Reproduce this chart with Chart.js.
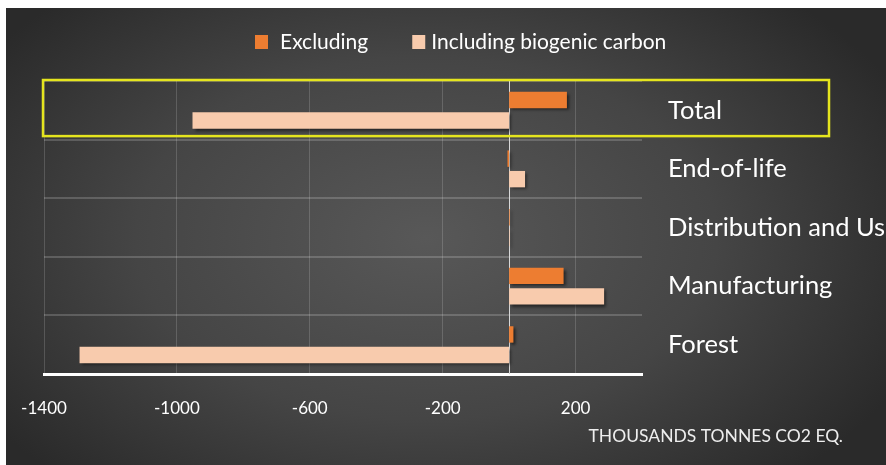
<!DOCTYPE html>
<html>
<head>
<meta charset="utf-8">
<script src="https://cdn.jsdelivr.net/npm/chart.js@4.4.0/dist/chart.umd.min.js"></script>
<style>
  html, body { margin: 0; padding: 0; background: #ffffff; width: 886px; height: 465px; overflow: hidden; }
  #wrap { position: absolute; left: 6px; top: 8px; width: 880px; height: 457px; }
</style>
</head>
<body>
<div id="wrap"><canvas id="c" width="880" height="457"></canvas></div>
<script>
// Life-cycle emissions by stage, thousand tonnes CO2 eq.
const categories = ['Total', 'End-of-life', 'Distribution and Use', 'Manufacturing', 'Forest'];
const excluding = [174, -5, 2, 164, 13];
const including = [-953, 48, 2, 286, -1293];
const seriesNames = ['Excluding', 'Including biogenic carbon'];
const seriesColors = ['#ED7D31', '#F8CBAD'];
const tickValues = [-1400, -1000, -600, -200, 200];
const axisTitle = 'THOUSANDS TONNES CO2 EQ.';
const FONT = 'Lato';

// dark slide-style backdrop, brighter towards the middle
const backdrop = {
  id: 'backdrop',
  beforeDraw(chart) {
    const { ctx, width, height } = chart;
    ctx.save();
    ctx.translate(420, 230);
    ctx.scale(1.6, 1);
    const g = ctx.createRadialGradient(0, 0, 0, 0, 0, 330);
    g.addColorStop(0, '#585858');
    g.addColorStop(0.55, '#454545');
    g.addColorStop(1, '#2a2a2a');
    ctx.fillStyle = g;
    ctx.fillRect(-420 / 1.6, -230, width / 1.6, height);
    ctx.restore();
  }
};

// zero reference line under the bars, plus soft drop shadows on the bars
const zeroAndShadow = {
  id: 'zeroAndShadow',
  beforeDatasetsDraw(chart) {
    const { ctx, chartArea } = chart;
    const x0 = Math.round(chart.scales.x.getPixelForValue(0)) + 0.5;
    ctx.save();
    ctx.strokeStyle = '#d8d8d8';
    ctx.lineWidth = 1;
    ctx.beginPath();
    ctx.moveTo(x0, chartArea.top);
    ctx.lineTo(x0, chartArea.bottom);
    ctx.stroke();
    ctx.restore();
    ctx.save();
    ctx.shadowColor = 'rgba(0,0,0,0.55)';
    ctx.shadowOffsetX = 2;
    ctx.shadowOffsetY = 2;
    ctx.shadowBlur = 3;
  },
  afterDatasetsDraw(chart) {
    chart.ctx.restore();
  }
};

// yellow highlight frame around the first category, legend and axis caption
const overlay = {
  id: 'overlay',
  afterDraw(chart) {
    const { ctx, chartArea, width } = chart;
    const y = chart.scales.y;
    const row = y.getPixelForValue(1) - y.getPixelForValue(0);
    const top = y.getPixelForValue(0) - row / 2 - 1;
    const bottom = y.getPixelForValue(0) + row / 2 - 3.5;
    ctx.save();
    ctx.strokeStyle = '#E5E51E';
    ctx.lineWidth = 2.5;
    ctx.strokeRect(chartArea.left - 1, top, (width - 57) - (chartArea.left - 1), bottom - top);

    // legend
    ctx.font = '21px ' + FONT;
    ctx.textBaseline = 'middle';
    let x = 249;
    const ly = 34;
    chart.data.datasets.forEach((ds, i) => {
      ctx.fillStyle = ds.backgroundColor;
      ctx.fillRect(x, ly - 7, 13, 14);
      x += 13 + (i === 0 ? 12 : 6);
      ctx.fillStyle = '#ffffff';
      ctx.textAlign = 'left';
      ctx.fillText(ds.label, x, ly);
      x += ctx.measureText(ds.label).width + 44;
    });

    // axis caption
    ctx.font = '17.5px ' + FONT;
    ctx.fillStyle = '#eeeeee';
    ctx.textAlign = 'right';
    ctx.fillText(axisTitle, width - 43, 428);
    ctx.restore();
  }
};

new Chart(document.getElementById('c'), {
  type: 'bar',
  data: {
    labels: categories,
    datasets: [
      { label: seriesNames[0], data: excluding, backgroundColor: seriesColors[0] },
      { label: seriesNames[1], data: including, backgroundColor: seriesColors[1] }
    ]
  },
  options: {
    indexAxis: 'y',
    responsive: false,
    animation: false,
    devicePixelRatio: 1,
    categoryPercentage: 0.7,
    barPercentage: 0.8,
    layout: { padding: { top: 73, left: 38, right: 0, bottom: 0 } },
    plugins: { legend: { display: false }, tooltip: { enabled: false } },
    scales: {
      x: {
        type: 'linear',
        min: -1400,
        max: 400,
        afterBuildTicks(scale) { scale.ticks = tickValues.map(v => ({ value: v })); },
        afterFit(scale) { scale.height = 91; scale.paddingLeft = 0; scale.paddingRight = 0; },
        grid: { color: 'rgba(255,255,255,0.16)', lineWidth: 1, drawTicks: false },
        border: { display: true, color: '#ffffff', width: 3 },
        ticks: {
          color: '#ffffff',
          font: { family: FONT, size: 17 },
          padding: 24,
          callback: v => String(v)
        }
      },
      y: {
        type: 'category',
        position: 'right',
        afterFit(scale) { scale.width = 244; },
        grid: { offset: true, color: 'rgba(255,255,255,0.18)', lineWidth: 2, drawTicks: false },
        border: { display: false },
        ticks: { color: '#ffffff', font: { family: FONT, size: 25.5 }, padding: 26, crossAlign: 'near' }
      }
    }
  },
  plugins: [backdrop, zeroAndShadow, overlay]
});
</script>
</body>
</html>
